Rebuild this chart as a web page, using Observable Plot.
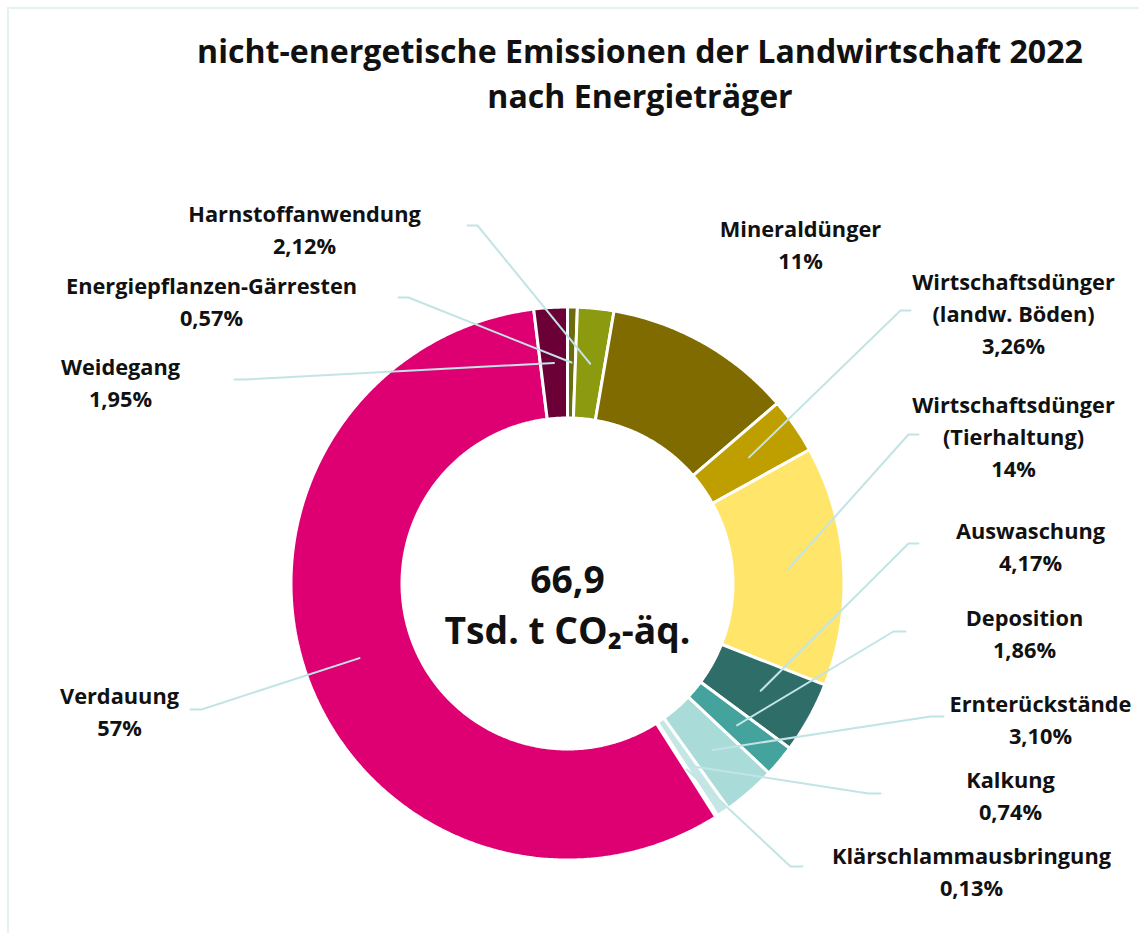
<!DOCTYPE html>
<html><head><meta charset="utf-8">
<script src="https://cdn.jsdelivr.net/npm/d3@7"></script>
<script src="https://cdn.jsdelivr.net/npm/@observablehq/plot@0.6"></script>
<style>
html,body{margin:0;padding:0;background:#fff;overflow:hidden;width:1139px;height:933px;}
#frame{position:absolute;left:7px;top:7px;width:1300px;height:1100px;border:2px solid #e3f3f3;box-sizing:border-box;}
#title{position:absolute;left:0;top:28px;width:1280px;text-align:center;font-family:"Open Sans",Lato,sans-serif;font-weight:700;font-size:31px;line-height:45px;color:#111;}
#chart{position:absolute;left:0;top:120px;}
</style></head>
<body>
<div id="frame"></div>
<div id="title">nicht-energetische Emissionen der Landwirtschaft 2022<br>nach Energieträger</div>
<div id="chart"></div>
<script>
// ---- data ----
const categories = ["Energiepflanzen-Gärresten","Harnstoffanwendung","Mineraldünger","Wirtschaftsdünger (landw. Böden)","Wirtschaftsdünger (Tierhaltung)","Auswaschung","Deposition","Ernterückstände","Kalkung","Klärschlammausbringung","Verdauung","Weidegang"];
const shares = [0.57, 2.12, 11, 3.26, 14, 4.17, 1.86, 3.10, 0.74, 0.13, 57, 1.95];
const shareLabels = ["0,57%","2,12%","11%","3,26%","14%","4,17%","1,86%","3,10%","0,74%","0,13%","57%","1,95%"];
const labelNames = ["Energiepflanzen-Gärresten","Harnstoffanwendung","Mineraldünger","Wirtschaftsdünger\n(landw. Böden)","Wirtschaftsdünger\n(Tierhaltung)","Auswaschung","Deposition","Ernterückstände","Kalkung","Klärschlammausbringung","Verdauung","Weidegang"];
const sliceColors = ["#6e6c10","#8c9a10","#7f6b00","#bf9f00","#ffe66a","#2e6d68","#44a39d","#a9dbd8","#c4e7e5","#def2f1","#de0073","#6b0037"];
const totalValue = "66,9";
const totalUnit = "Tsd. t CO₂-äq.";
const titleLine1 = "nicht-energetische Emissionen der Landwirtschaft 2022";

// ---- layout (page pixels) ----
const W = 1139, H = 813, TOP = 120;
const CX = 567, CY = 583, K = 275;           // donut centre and px per unit radius
const R_OUT = 1 + 1.5 / K, R_IN = (167 - 1.5) / K, R_MID = 221 / K;
const labelPos = [[211,299],[304,227.5],[800,242],[1013,311],[1013,434.5],[1030,544],[1024,631.5],[1040,717.5],[1010,793],[971,869.5],[119,709.5],[120,380]];
const leaderStart = [[398,297,408],[467,225,477],null,[910,310,900],[918,434,908],[918,543,908],[905,631,893],[943,716,930],[880,793,868],[802,866,790],[190,709,201],[234,379,244]];

const FONT = "'Open Sans', Lato, sans-serif";
// fit font sizes to the reference text widths
const ctx = document.createElement("canvas").getContext("2d");
function fit(text, target) {
  ctx.font = "700 100px 'Open Sans'";
  return 100 * target / ctx.measureText(text).width;
}
const titleSize = fit(titleLine1, 886);
const labelSize = (fit("Klärschlammausbringung", 278) + fit("Energiepflanzen-Gärresten", 293) + fit("Harnstoffanwendung", 232)) / 3;
const centerSize = fit(totalUnit, 246);
document.getElementById("title").style.fontSize = titleSize + "px";

const ux = px => (px - CX) / K;
const uy = py => (py - CY) / K;

const pie = d3.pie().sort(null).value(d => d)(shares);

const polys = [];
pie.forEach((p, i) => {
  const n = Math.max(2, Math.ceil((p.endAngle - p.startAngle) / (Math.PI / 360)));
  for (let j = 0; j <= n; j++) {
    const a = p.startAngle + (p.endAngle - p.startAngle) * j / n;
    polys.push({name: categories[i], x: R_OUT * Math.sin(a), y: -R_OUT * Math.cos(a)});
  }
  for (let j = n; j >= 0; j--) {
    const a = p.startAngle + (p.endAngle - p.startAngle) * j / n;
    polys.push({name: categories[i], x: R_IN * Math.sin(a), y: -R_IN * Math.cos(a)});
  }
});

const leaders = [];
pie.forEach((p, i) => {
  const s = leaderStart[i];
  if (!s) return;
  const a = (p.startAngle + p.endAngle) / 2;
  leaders.push({name: categories[i], x: ux(s[0]), y: uy(s[1])});
  leaders.push({name: categories[i], x: ux(s[2]), y: uy(s[1])});
  leaders.push({name: categories[i], x: R_MID * Math.sin(a), y: -R_MID * Math.cos(a)});
});

const labels = categories.map((c, i) => ({
  name: c,
  text: labelNames[i] + "\n" + shareLabels[i],
  x: ux(labelPos[i][0]),
  y: uy(labelPos[i][1])
}));

const chart = Plot.plot({
  width: W, height: H,
  margin: 0,
  x: {domain: [ux(0), ux(W)], range: [0, W], axis: null},
  y: {domain: [uy(TOP), uy(TOP + H)], range: [0, H], axis: null},
  color: {domain: categories, range: sliceColors},
  style: {background: "transparent", overflow: "visible"},
  marks: [
    Plot.line(polys, {x: "x", y: "y", z: "name", fill: "name", stroke: "white", strokeWidth: 3, curve: "linear-closed", strokeLinejoin: "miter"}),
    Plot.line(leaders, {x: "x", y: "y", z: "name", stroke: "#c2e4e4", strokeWidth: 2, curve: "linear", strokeLinejoin: "round"}),
    Plot.text(labels, {x: "x", y: "y", text: "text", lineAnchor: "middle", lineHeight: 32 / labelSize, fontSize: labelSize, fontWeight: 700, fontFamily: FONT, fill: "#111"}),
    Plot.text([totalValue], {x: () => 0, y: () => uy(581), text: d => d, fontSize: centerSize, fontWeight: 700, fontFamily: FONT, fill: "#111", lineAnchor: "middle"}),
    Plot.text([totalUnit], {x: () => 0, y: () => uy(632), text: d => d, fontSize: centerSize, fontWeight: 700, fontFamily: FONT, fill: "#111", lineAnchor: "middle"})
  ]
});
document.getElementById("chart").appendChild(chart);
</script>
</body></html>
